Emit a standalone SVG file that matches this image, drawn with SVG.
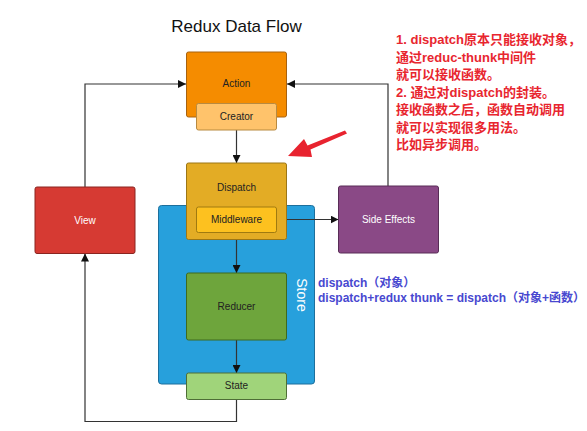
<svg xmlns="http://www.w3.org/2000/svg" width="587" height="431" viewBox="0 0 587 431">
<style>
.n{stroke-width:1}
.t{font-family:"Liberation Sans",Arial,sans-serif;font-size:10px;text-anchor:middle;fill:#222}
.w{fill:#fff}
.c{fill:none;stroke:#333;stroke-width:1.2}
.red{font-family:"Liberation Sans","Noto Sans CJK SC",sans-serif;font-size:13px;font-weight:bold;fill:#e8262f}
.blue{font-family:"Liberation Sans","Noto Sans CJK SC",sans-serif;font-size:12px;font-weight:bold;fill:#4848d0}
</style>
<defs>
<marker id="ah" viewBox="0 0 10 10" refX="10" refY="5" markerWidth="8" markerHeight="8" markerUnits="userSpaceOnUse" orient="auto">
<path d="M0,0 L10,5 L0,10 z" fill="#111"/>
</marker>
</defs>
<rect width="587" height="431" fill="#fff"/>
<text x="236.5" y="31.5" style="font-family:'Liberation Sans',Arial,sans-serif;font-size:17px;text-anchor:middle;fill:#111">Redux Data Flow</text>

<g id="store">
<rect x="158.5" y="205.5" width="156" height="178.5" rx="3" fill="#27a0dc" stroke="#1d6f9c"/>
<text transform="translate(296.5,295) rotate(90)" style="font-family:'Liberation Sans',Arial,sans-serif;font-size:14px;text-anchor:middle;fill:#fff">Store</text>
</g>

<g id="connectors">
<path class="c" d="M85,187 V84 H186" marker-end="url(#ah)"/>
<path class="c" d="M388,186 V84 H287" marker-end="url(#ah)"/>
<path class="c" d="M236.5,130 V163" marker-end="url(#ah)"/>
<path class="c" d="M236.5,239.5 V273" marker-end="url(#ah)"/>
<path class="c" d="M236.5,340 V373" marker-end="url(#ah)"/>
<path class="c" d="M277,219.5 H338.5" marker-end="url(#ah)"/>
<path class="c" d="M236.5,399.5 V421.5 H85 V253.5" marker-end="url(#ah)"/>
</g>

<g id="action">
<rect x="186.5" y="52" width="100" height="65" rx="2" fill="#f58c00" stroke="#a8620e"/>
<text class="t" x="236.5" y="86.5">Action</text>
</g>
<g id="creator">
<rect x="196.5" y="103.5" width="80" height="26.5" rx="2" fill="#ffc36b" stroke="#b88a40"/>
<text class="t" x="236.5" y="120">Creator</text>
</g>
<g id="dispatch">
<rect x="186.5" y="163" width="100" height="76.5" rx="2" fill="#e3ac25" stroke="#9c7616"/>
<text class="t" x="236.5" y="191">Dispatch</text>
</g>
<g id="middleware">
<rect x="196.5" y="207" width="80" height="25.5" rx="2" fill="#fdc11f" stroke="#a07a10"/>
<text class="t" x="236.5" y="223">Middleware</text>
</g>
<g id="reducer">
<rect x="186.5" y="273" width="100" height="67" rx="2" fill="#6ea53c" stroke="#3f6a1f"/>
<text class="t" x="236.5" y="309.5">Reducer</text>
</g>
<g id="state">
<rect x="186.5" y="373" width="100" height="26.5" rx="2" fill="#a0d47a" stroke="#4e6e36"/>
<text class="t" x="236.5" y="389">State</text>
</g>
<g id="view">
<rect x="35" y="187" width="100" height="66.5" rx="2" fill="#d63a33" stroke="#8a2420"/>
<text class="t w" x="85" y="223.5">View</text>
</g>
<g id="side-effects">
<rect x="338.5" y="186" width="100" height="67" rx="2" fill="#8a4986" stroke="#582c56"/>
<text class="t w" x="388.5" y="223">Side Effects</text>
</g>

<polygon points="288,156 304,139 307.5,145.5 345,130.5 347,133.5 310.5,149.5 312,157" fill="#e8232f"/>

<g id="notes">
<text class="red" x="396" y="44">1. dispatch原本只能接收对象，</text>
<text class="red" x="396" y="61.5">通过reduc-thunk中间件</text>
<text class="red" x="396" y="79">就可以接收函数。</text>
<text class="red" x="396" y="96.5">2. 通过对dispatch的封装。</text>
<text class="red" x="396" y="114">接收函数之后，函数自动调用</text>
<text class="red" x="396" y="131.5">就可以实现很多用法。</text>
<text class="red" x="396" y="149">比如异步调用。</text>
<text class="blue" x="318" y="287">dispatch（对象）</text>
<text class="blue" x="318" y="302">dispatch+redux thunk = dispatch（对象+函数）</text>
</g>
</svg>
